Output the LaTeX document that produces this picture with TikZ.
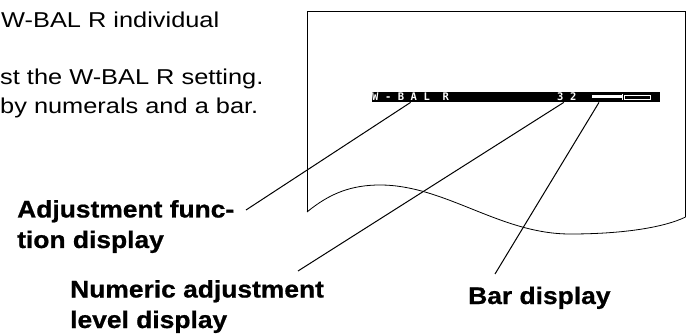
\documentclass[tikz,border=0pt]{standalone}
\usepackage{fontspec}
\setmainfont{Liberation Sans}
\newfontfamily\bodyfont[FakeStretch=1.18]{Liberation Sans}
\newfontfamily\lblfont[FakeStretch=1.1,FakeBold=0.8]{Liberation Sans Bold}
\newfontfamily\osdfont[LetterSpace=62]{DejaVu Sans Mono Bold}
\tikzset{
  body/.style={font=\bodyfont\fontsize{21.5}{29}\selectfont, align=left, inner sep=0pt, anchor=base west},
  lbl/.style={font=\lblfont\fontsize{24}{30.5}\selectfont, align=left, inner sep=0pt, anchor=base west},
  osdtext/.style={font=\osdfont\fontsize{10.5}{10}\selectfont, text=white, inner sep=0pt, anchor=base west},
  leader/.style={line width=1pt},
  sheet/.style={line width=0.8pt}
}
\begin{document}
\begin{tikzpicture}[x=1pt,y=-1pt]
\useasboundingbox (0,0) rectangle (687,336);

\node[body] (intro) at (1,28) {W-BAL R individual};
\node[body] (desc) at (0,114) {st the W-BAL R setting.\\by numerals and a bar.};

\draw[sheet] (307,212) -- (307,11.5) -- (685.6,11.5) -- (685.6,217);
\draw[sheet] (307,212) .. controls (330,193) and (352,185) .. (380,185)
  .. controls (445,185) and (500,234) .. (570,234)
  .. controls (625,234) and (665,227) .. (685.6,217);

\node[fill=black, minimum width=288pt, minimum height=10pt, inner sep=0pt, anchor=north west] (osd) at (372,92) {};
\node[osdtext] (fnname) at (372,100.5) {W-BAL R};
\node[osdtext] (lvl) at (557,100.5) {32};
\node[fill=white, minimum width=30pt, minimum height=3pt, inner sep=0pt, anchor=west] (barfill) at (592,97) {};
\draw[white, line width=1pt] (barfill.east) ++(0,-3) -- ++(0,6);
\draw[white, line width=0.5pt] (624,95.5) rectangle (650,99);

\node[lbl] (adjlbl) at (17,248) {Adjustment func-\\tion display};
\node[lbl] (numlbl) at (70,328) {Numeric adjustment\\level display};
\node[lbl] (barlbl) at (468,304) {Bar display};

\coordinate (adjtip) at (246,210);
\coordinate (numtip) at (298,271);
\coordinate (bartip) at (495,274);

\draw[leader] (fnname |- osd.south) -- (adjtip);
\draw[leader] ([xshift=-3pt]lvl.south |- osd.south) -- (numtip);
\draw[leader] ([xshift=7pt]barfill.west |- osd.south) -- (bartip);
\end{tikzpicture}
\end{document}
